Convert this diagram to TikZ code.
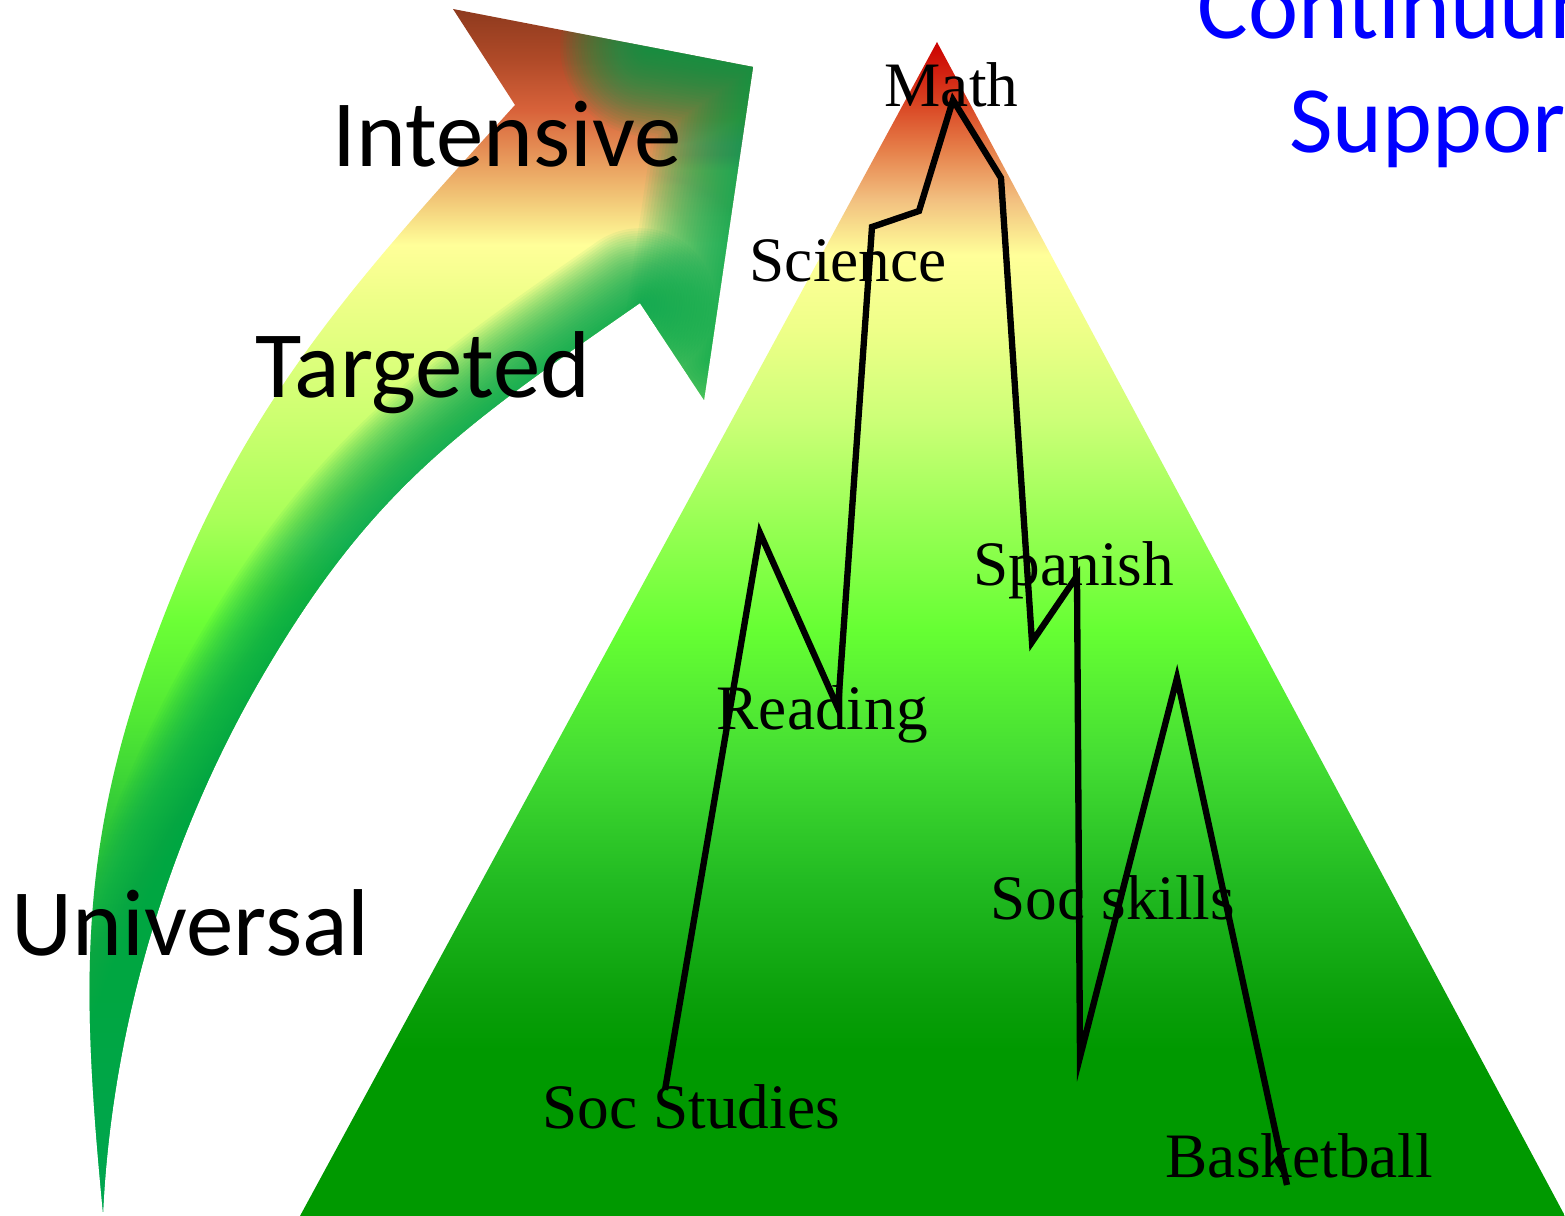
\documentclass[tikz,border=0pt]{standalone}
\usepackage{fontspec}
\setmainfont{Liberation Serif}
\newfontfamily\calib{Carlito}

\definecolor{titleblue}{HTML}{0000FF}
\definecolor{arrowgreen}{HTML}{00A651}
% triangle colours
\definecolor{ta}{HTML}{009900}
\definecolor{tb}{HTML}{0A9F0A}
\definecolor{tc}{HTML}{22BB22}
\definecolor{td}{HTML}{44DD33}
\definecolor{te}{HTML}{66FF33}
\definecolor{tf}{HTML}{99FF55}
\definecolor{tg}{HTML}{CCFF77}
\definecolor{th}{HTML}{EEFF88}
\definecolor{ti}{HTML}{FFFF99}
\definecolor{tj}{HTML}{F2C080}
\definecolor{tk}{HTML}{E6804A}
\definecolor{tl}{HTML}{D84020}
\definecolor{tm}{HTML}{CC0000}
% arrow colours
\definecolor{aa}{HTML}{00A651}
\definecolor{ab}{HTML}{06A848}
\definecolor{ac}{HTML}{18B03E}
\definecolor{ad}{HTML}{30C838}
\definecolor{ae}{HTML}{50E834}
\definecolor{af}{HTML}{6CFF36}
\definecolor{ag}{HTML}{A8FF58}
\definecolor{ah}{HTML}{CCFF70}
\definecolor{ai}{HTML}{EEFF88}
\definecolor{aj}{HTML}{FFFF99}
\definecolor{ak}{HTML}{F2C878}
\definecolor{al}{HTML}{E89A5C}
\definecolor{am}{HTML}{D8623A}
\definecolor{an}{HTML}{B04A28}
\definecolor{ao}{HTML}{8E3A1E}

\pgfdeclareverticalshading{trishade}{100bp}{color(0bp)=(ta); color(25bp)=(ta); color(32.07bp)=(ta); color(34.2bp)=(tb); color(39.31bp)=(tc); color(44.42bp)=(td); color(49.96bp)=(te); color(54.64bp)=(tf); color(58.9bp)=(tg); color(62.73bp)=(th); color(65.93bp)=(ti); color(68.27bp)=(tj); color(70.4bp)=(tk); color(72.53bp)=(tl); color(75bp)=(tm); color(100bp)=(tm)}

\pgfdeclareverticalshading{arrowshade}{100bp}{color(0bp)=(aa); color(25bp)=(aa); color(29.65bp)=(ab); color(35.89bp)=(ac); color(41.29bp)=(ad); color(45.45bp)=(ae); color(49.6bp)=(af); color(53.76bp)=(ag); color(57.92bp)=(ah); color(62.91bp)=(ai); color(65.19bp)=(aj); color(67.06bp)=(ak); color(68.72bp)=(al); color(70.8bp)=(am); color(72.88bp)=(an); color(75bp)=(ao); color(100bp)=(ao)}

\newcommand{\innercurve}{.. controls (460,428) and (370,490) .. (260,680) .. controls (167.5,840) and (112,1027) .. (103,1212)}
\newcommand{\outercurve}{.. controls (79,963) and (79,825) .. (173,593) .. controls (255,389) and (367,268) .. (515,105)}
\newcommand{\arrowoutline}{(515,105) -- (453,9) -- (753,67) -- (704,400) -- (640,303) \innercurve \outercurve -- cycle}

\begin{document}
\begin{tikzpicture}[x=0.01cm,y=-0.01cm,
  lbl/.style={font=\fontsize{18}{20}\selectfont, anchor=base west, inner sep=0pt},
  big/.style={font=\calib\fontsize{27}{32}\selectfont, anchor=base west, inner sep=0pt},
  ttl/.style={font=\calib\fontsize{27}{32}\selectfont, text=titleblue, anchor=base, inner sep=0pt},
  zig/.style={line width=1.8pt, draw=black},
  glow/.style={draw=arrowgreen, line join=round, line cap=round}]

\useasboundingbox (0,0) rectangle (1565,1216);

% ---------- curved arrow ----------
\begin{scope}
  \clip \arrowoutline;
  \shade[shading=arrowshade] \arrowoutline;
  % soft darker green along the inner edge
  \foreach \w in {5,10,...,150} {
    \draw[glow, draw opacity=0.06, line width=\w*0.2835pt] (640,303) \innercurve;
  }
  % soft darker green along the right edge of the head
  \foreach \w in {6,12,...,180} {
    \draw[glow, draw opacity=0.055, line width=\w*0.2835pt] (650,47) -- (753,67) -- (710,360);
  }
\end{scope}

% ---------- triangle ----------
\coordinate (apex) at (937,42);
\coordinate (bl) at (300,1216);
\coordinate (br) at (1565,1216);
\shade[shading=trishade] (apex) -- (bl) -- (br) -- cycle;

% ---------- zigzag path ----------
\coordinate (p1) at (665,1090);
\coordinate (p2) at (760,533);
\coordinate (p3) at (838,708);
\coordinate (p4) at (872,227);
\coordinate (p5) at (919,211);
\coordinate (p6) at (953,100);
\coordinate (p7) at (1001,178);
\coordinate (p8) at (1032,642);
\coordinate (p9) at (1077,576);
\coordinate (p10) at (1080,1057);
\coordinate (p11) at (1177,678);
\coordinate (p12) at (1287,1185);
\draw[zig] (p1) -- (p2) -- (p3) -- (p4) -- (p5) -- (p6) -- (p7) -- (p8) -- (p9) -- (p10) -- (p11) -- (p12);

% ---------- subject labels ----------
\node[lbl] (math) at (884,107) {Math};
\node[lbl] (science) at (749,282) {Science};
\node[lbl] (spanish) at (973,586) {Spanish};
\node[lbl] (reading) at (716,730) {Reading};
\node[lbl] (socskills) at (990,920) {Soc skills};
\node[lbl] (socstudies) at (542,1129) {Soc Studies};
\node[lbl] (basketball) at (1165,1178) {Basketball};

% ---------- tier labels ----------
\node[big] (intensive) at (332,167) {Intensive};
\node[big] (targeted) at (255,398) {Targeted};
\node[big] (universal) at (11,956) {Universal};

% ---------- title (cut by the right edge, as in the original) ----------
\node[ttl] (title1) at (1462,39) {Continuum of};
\node[ttl] (title2) at (1462,153) {Supports};
\end{tikzpicture}
\end{document}
